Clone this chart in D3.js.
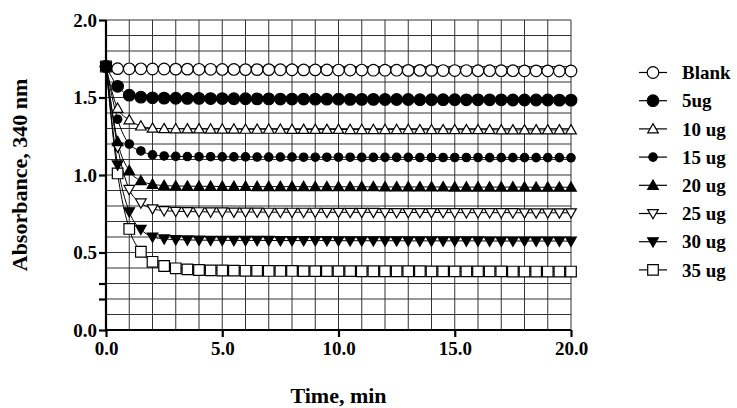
<!DOCTYPE html>
<html lang="en">
  <head>
    <meta charset="utf-8">
    <title>Absorbance vs time</title>
    <script src="https://cdnjs.cloudflare.com/ajax/libs/d3/7.8.5/d3.min.js"></script>
    <style type="text/css">
      body { margin: 0; background: #fff; }
      svg { display: block; }
      .lbl { font-family: 'Liberation Serif', 'Times New Roman', serif; font-weight: bold; }
    </style>
  </head>
  <body>
    <svg id="chart"></svg>
    <script type="text/javascript">
// time points, minutes
var times = [0, 0.5, 1, 1.5, 2, 2.5, 3, 3.5, 4, 4.5, 5, 5.5, 6, 6.5, 7, 7.5, 8, 8.5, 9, 9.5,
  10, 10.5, 11, 11.5, 12, 12.5, 13, 13.5, 14, 14.5, 15, 15.5, 16, 16.5, 17, 17.5, 18, 18.5, 19, 19.5, 20];

var names = ["Blank", "5ug", "10 ug", "15 ug", "20 ug", "25 ug", "30 ug", "35 ug"];

var blank = [1.700, 1.686, 1.685, 1.685, 1.684, 1.684, 1.683, 1.683, 1.682, 1.682,
  1.681, 1.681, 1.680, 1.680, 1.680, 1.679, 1.679, 1.678, 1.678, 1.678,
  1.677, 1.677, 1.677, 1.676, 1.676, 1.676, 1.675, 1.675, 1.675, 1.674,
  1.674, 1.674, 1.673, 1.673, 1.673, 1.673, 1.672, 1.672, 1.672, 1.671, 1.671];
var ug5 = [1.700, 1.572, 1.515, 1.502, 1.498, 1.496, 1.495, 1.494, 1.494, 1.493,
  1.493, 1.492, 1.492, 1.491, 1.491, 1.490, 1.490, 1.490, 1.489, 1.489,
  1.489, 1.488, 1.488, 1.488, 1.487, 1.487, 1.487, 1.486, 1.486, 1.486,
  1.486, 1.485, 1.485, 1.485, 1.485, 1.484, 1.484, 1.484, 1.484, 1.483, 1.483];
var ug10 = [1.700, 1.430, 1.355, 1.316, 1.302, 1.299, 1.298, 1.297, 1.297, 1.296,
  1.296, 1.296, 1.295, 1.295, 1.295, 1.295, 1.294, 1.294, 1.294, 1.294,
  1.294, 1.293, 1.293, 1.293, 1.293, 1.293, 1.293, 1.292, 1.292, 1.292,
  1.292, 1.292, 1.292, 1.292, 1.291, 1.291, 1.291, 1.291, 1.291, 1.291, 1.291];
var ug15 = [1.700, 1.360, 1.200, 1.155, 1.130, 1.123, 1.120, 1.119, 1.118, 1.118,
  1.117, 1.117, 1.117, 1.116, 1.116, 1.116, 1.116, 1.115, 1.115, 1.115,
  1.115, 1.115, 1.114, 1.114, 1.114, 1.114, 1.114, 1.113, 1.113, 1.113,
  1.113, 1.113, 1.113, 1.112, 1.112, 1.112, 1.112, 1.112, 1.112, 1.112, 1.111];
var ug20 = [1.700, 1.215, 1.028, 0.963, 0.940, 0.932, 0.929, 0.928, 0.927, 0.927,
  0.926, 0.926, 0.926, 0.925, 0.925, 0.925, 0.925, 0.925, 0.924, 0.924,
  0.924, 0.924, 0.924, 0.924, 0.923, 0.923, 0.923, 0.923, 0.923, 0.923,
  0.922, 0.922, 0.922, 0.922, 0.922, 0.922, 0.922, 0.921, 0.921, 0.921, 0.921];
var ug25 = [1.700, 1.180, 0.907, 0.820, 0.782, 0.770, 0.766, 0.764, 0.763, 0.762,
  0.762, 0.761, 0.761, 0.761, 0.760, 0.760, 0.760, 0.760, 0.760, 0.759,
  0.759, 0.759, 0.759, 0.759, 0.758, 0.758, 0.758, 0.758, 0.758, 0.758,
  0.757, 0.757, 0.757, 0.757, 0.757, 0.757, 0.756, 0.756, 0.756, 0.756, 0.756];
var ug30 = [1.700, 1.065, 0.763, 0.650, 0.600, 0.588, 0.583, 0.581, 0.580, 0.579,
  0.579, 0.578, 0.578, 0.578, 0.578, 0.577, 0.577, 0.577, 0.577, 0.577,
  0.576, 0.576, 0.576, 0.576, 0.576, 0.576, 0.575, 0.575, 0.575, 0.575,
  0.575, 0.575, 0.575, 0.574, 0.574, 0.574, 0.574, 0.574, 0.574, 0.574, 0.573];
var ug35 = [1.700, 1.010, 0.652, 0.505, 0.440, 0.413, 0.398, 0.391, 0.387, 0.385,
  0.384, 0.383, 0.382, 0.382, 0.381, 0.381, 0.381, 0.380, 0.380, 0.380,
  0.380, 0.380, 0.379, 0.379, 0.379, 0.379, 0.379, 0.379, 0.378, 0.378,
  0.378, 0.378, 0.378, 0.378, 0.378, 0.377, 0.377, 0.377, 0.377, 0.377, 0.377];

var xTicks = [0, 5, 10, 15, 20];
var yTicks = [0, 0.5, 1.0, 1.5, 2.0];
var yMinorTicks = [0.2, 0.3];

var w = 737, h = 408;
var padLeft = 106, padRight = 571, padTop = 20, padBottom = 330;

// marker look for each series (same order as names)
var markers = [
  { shape: "circle", r: 5.8, fill: "#fff" },
  { shape: "circle", r: 5.8, fill: "#000" },
  { shape: "up", r: 5.3, fill: "#fff" },
  { shape: "circle", r: 4.2, fill: "#000" },
  { shape: "up", r: 5.3, fill: "#000" },
  { shape: "down", r: 5.3, fill: "#fff" },
  { shape: "down", r: 5.3, fill: "#000" },
  { shape: "square", r: 5.3, fill: "#fff" }
];
var allValues = [blank, ug5, ug10, ug15, ug20, ug25, ug30, ug35];

var series = names.map(function(n, i) {
  return { name: n, m: markers[i], values: allValues[i].map(function(v, j) { return [times[j], v]; }) };
});

// open markers first, filled ones on top
var drawOrder = [7, 5, 2, 0, 1, 3, 4, 6];

var xScale = d3.scaleLinear().domain([0, 20]).range([padLeft, padRight]);
var yScale = d3.scaleLinear().domain([0, 2]).range([padBottom, padTop]);

var svg = d3.select("#chart").attr("width", w).attr("height", h);

function markerPath(m) {
  var r = m.r;
  if (m.shape == "circle") {
    return "M" + r + ",0A" + r + "," + r + " 0 1,1 " + (-r) + ",0A" + r + "," + r + " 0 1,1 " + r + ",0Z";
  }
  if (m.shape == "up") {
    return "M0," + (-r) + "L" + r + "," + (r * 0.75) + "L" + (-r) + "," + (r * 0.75) + "Z";
  }
  if (m.shape == "down") {
    return "M0," + r + "L" + r + "," + (-r * 0.75) + "L" + (-r) + "," + (-r * 0.75) + "Z";
  }
  return "M" + (-r) + "," + (-r) + "H" + r + "V" + r + "H" + (-r) + "Z";
}

// grid
var grid = svg.append("g").attr("class", "grid");
grid.selectAll("line.v").data(d3.range(1, 21)).enter().append("line")
  .attr("class", "v")
  .attr("x1", function(d) { return xScale(d); })
  .attr("x2", function(d) { return xScale(d); })
  .attr("y1", yScale(0)).attr("y2", yScale(2))
  .attr("stroke", "#333").attr("stroke-width", 1);
grid.selectAll("line.h").data(d3.range(1, 21)).enter().append("line")
  .attr("class", "h")
  .attr("y1", function(d) { return yScale(d / 10); })
  .attr("y2", function(d) { return yScale(d / 10); })
  .attr("x1", xScale(0)).attr("x2", xScale(20))
  .attr("stroke", "#333").attr("stroke-width", 1);

// curves
var line = d3.line()
  .x(function(d) { return xScale(d[0]); })
  .y(function(d) { return yScale(d[1]); })
  .curve(d3.curveMonotoneX);

var ordered = drawOrder.map(function(i) { return series[i]; });

svg.append("g").selectAll("path").data(ordered).enter().append("path")
  .attr("d", function(d) { return line(d.values); })
  .attr("fill", "none")
  .attr("stroke", "#000")
  .attr("stroke-width", 1);

var groups = svg.append("g").selectAll("g").data(ordered).enter().append("g");
groups.selectAll("path").data(function(d) {
    return d.values.map(function(v) { return { v: v, m: d.m }; });
  })
  .enter().append("path")
  .attr("transform", function(d) { return "translate(" + xScale(d.v[0]) + "," + yScale(d.v[1]) + ")"; })
  .attr("d", function(d) { return markerPath(d.m); })
  .attr("fill", function(d) { return d.m.fill; })
  .attr("stroke", "#000")
  .attr("stroke-width", 1.2);

// axes
var yAxis = d3.axisLeft(yScale).tickValues(yTicks).tickSize(7).tickPadding(2)
  .tickFormat(d3.format(".1f"));
var xAxis = d3.axisBottom(xScale).tickValues(xTicks).tickSize(7).tickPadding(5)
  .tickFormat(d3.format(".1f"));

var gy = svg.append("g")
  .attr("transform", "translate(" + padLeft + ",0)")
  .call(yAxis);
var gx = svg.append("g")
  .attr("transform", "translate(0," + padBottom + ")")
  .call(xAxis);

svg.append("g")
  .attr("transform", "translate(" + padLeft + ",0)")
  .call(d3.axisLeft(yScale).tickValues(yMinorTicks).tickSize(7).tickFormat(""))
  .select(".domain").remove();

svg.selectAll(".domain, .tick line").attr("stroke", "#000").attr("stroke-width", 2.2);
svg.selectAll(".tick text")
  .attr("class", "lbl")
  .attr("fill", "#000")
  .style("font-size", "19px");
gy.select(".domain").attr("d", "M0," + padTop + "V" + padBottom);
gx.select(".domain").attr("d", "M" + padLeft + ",0H" + padRight);

// axis titles
svg.append("text")
  .attr("class", "lbl")
  .attr("transform", "translate(27," + ((padTop + padBottom) / 2) + ") rotate(-90)")
  .attr("text-anchor", "middle")
  .style("font-size", "22px")
  .text("Absorbance, 340 nm");

svg.append("text")
  .attr("class", "lbl")
  .attr("x", (padLeft + padRight) / 2)
  .attr("y", 403)
  .attr("text-anchor", "middle")
  .style("font-size", "22px")
  .text("Time, min");

// legend
var legend = svg.append("g").selectAll("g").data(series).enter().append("g")
  .attr("transform", function(d, i) { return "translate(653," + (72.5 + i * 28.2) + ")"; });
legend.append("line")
  .attr("x1", -14).attr("x2", 14)
  .attr("stroke", "#000").attr("stroke-width", 1.2);
legend.append("path")
  .attr("d", function(d) { return markerPath(d.m); })
  .attr("fill", function(d) { return d.m.fill; })
  .attr("stroke", "#000")
  .attr("stroke-width", 1.2);
legend.append("text")
  .attr("class", "lbl")
  .attr("x", 29)
  .attr("dy", "0.35em")
  .style("font-size", "19px")
  .text(function(d) { return d.name; });
    </script>
  </body>
</html>
